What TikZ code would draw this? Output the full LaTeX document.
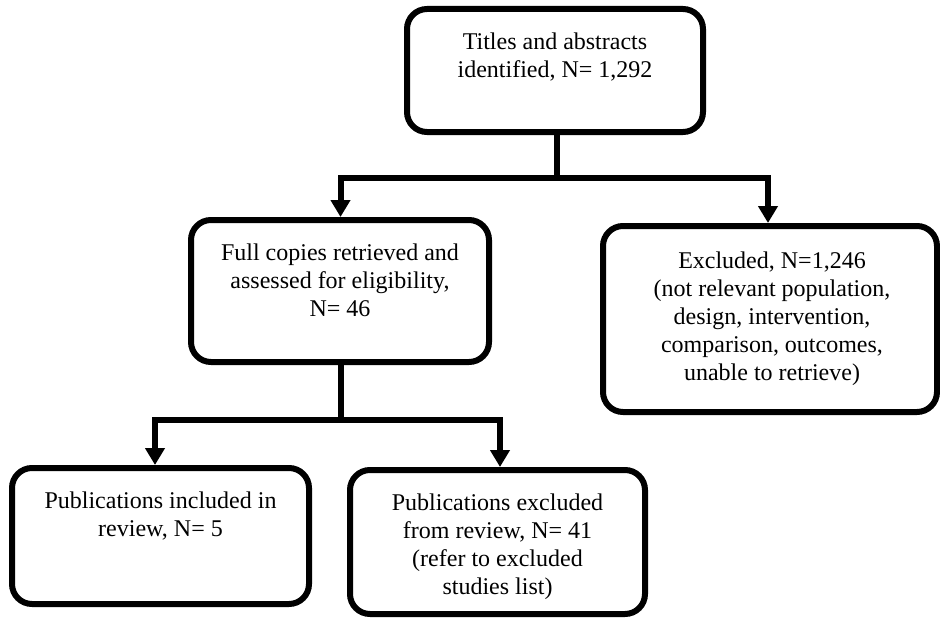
\documentclass[tikz,border=0pt]{standalone}
\usepackage{fontspec}
\setmainfont{Liberation Serif}
\usetikzlibrary{arrows.meta}
\tikzset{
  box/.style={draw=black, line width=6pt, rounded corners=20pt, rectangle, inner sep=0pt, fill=white},
  txt/.style={anchor=north, align=center, inner sep=0pt, font=\fontsize{24}{28}\selectfont},
  conn/.style={draw=black, line width=6pt},
  arr/.style={conn, -{Triangle[width=19pt,length=17pt]}}
}
\begin{document}
\begin{tikzpicture}[x=1pt,y=-1pt]
\useasboundingbox (0,0) rectangle (940,618);
\node[box, minimum width=296pt, minimum height=123pt] (top) at (555,70.5) {};
\node[box, minimum width=298pt, minimum height=142pt] (full) at (340,291) {};
\node[box, minimum width=334pt, minimum height=186pt] (excl) at (770,319) {};
\node[box, minimum width=297pt, minimum height=136pt] (incl) at (160.5,536) {};
\node[box, minimum width=295pt, minimum height=144pt] (pubex) at (497.5,542) {};

\node[txt] (ttop) at ([yshift=-27pt]top.north) {Titles and abstracts\\identified, N= 1,292};
\node[txt] (tfull) at ([yshift=-27pt]full.north) {Full copies retrieved and\\assessed for eligibility,\\N= 46};
\node[txt, xshift=2pt] (texcl) at ([yshift=-29pt]excl.north) {Excluded, N=1,246\\(not relevant population,\\design, intervention,\\comparison, outcomes,\\unable to retrieve)};
\node[txt] (tincl) at ([yshift=-27pt]incl.north) {Publications included in\\review, N= 5};
\node[txt] (tpubex) at ([yshift=-27pt]pubex.north) {Publications excluded\\from review, N= 41\\(refer to excluded\\studies list)};

\coordinate (j1) at (557,178);
\coordinate (j2) at (341,420);
\draw[conn] (j1 |- top.south) -- (j1);
\draw[arr] (j1) -| ([xshift=0.5pt]full.north);
\draw[arr] (j1) -| ([xshift=-2pt]excl.north);
\draw[conn] (j2 |- full.south) -- (j2);
\draw[arr] (j2) -| ([xshift=-5.5pt]incl.north);
\draw[arr] (j2) -| ([xshift=2.5pt]pubex.north);
\end{tikzpicture}
\end{document}
